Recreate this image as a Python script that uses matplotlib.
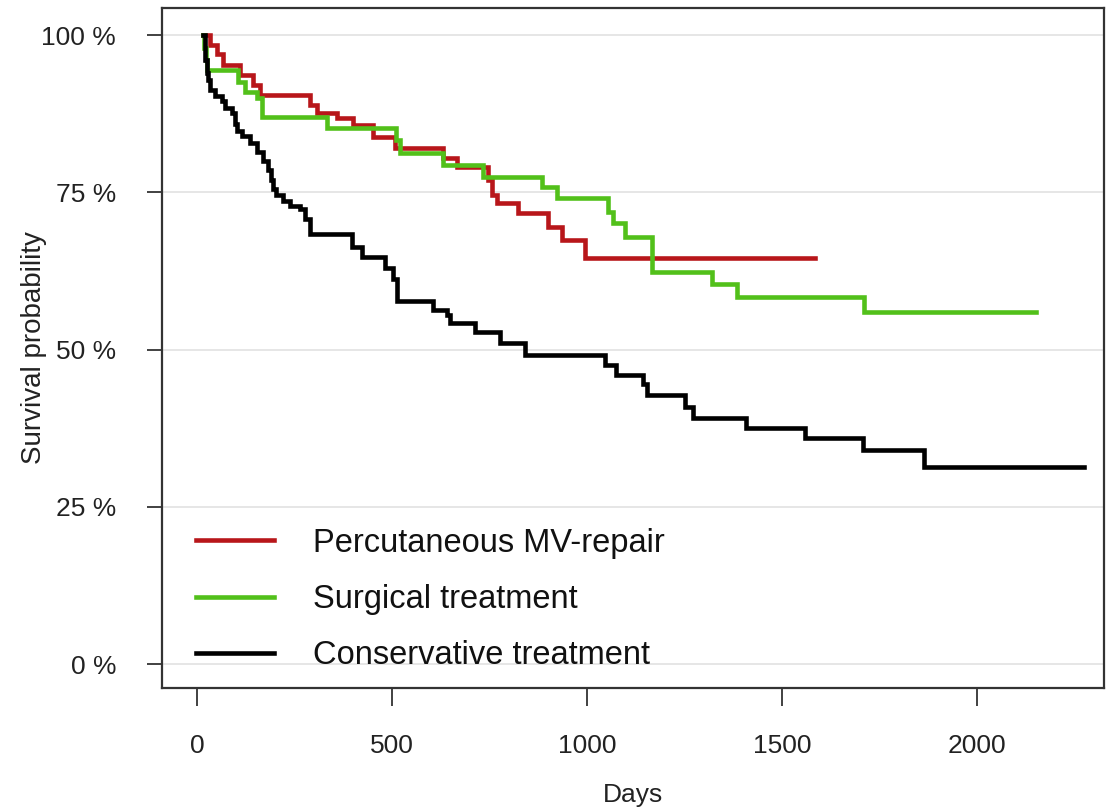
import matplotlib
matplotlib.use("Agg")
import matplotlib.pyplot as plt

# Kaplan-Meier step data (days, survival %)
days_pmv = [15, 33, 51, 67, 110, 144, 162, 290, 308, 359, 400, 451, 508, 631, 667,
            746, 756, 769, 823, 900, 936, 995, 1585]
surv_pmv = [100, 98.5, 97, 95.2, 93.6, 92, 90.5, 88.9, 87.6, 86.8, 85.7, 83.8, 82, 80.4, 79,
            77, 74.6, 73.3, 71.7, 69.5, 67.4, 64.5, 64.5]

days_sur = [15, 18, 22, 26, 105, 123, 154, 167, 333, 510, 520, 631, 733, 885, 923,
            1054, 1067, 1097, 1167, 1321, 1385, 1710, 2151]
surv_sur = [100, 98, 96, 94.4, 92.6, 91, 90, 87, 85.2, 83.3, 81.3, 79.3, 77.4, 75.8, 74.1,
            71.9, 70.1, 67.9, 62.3, 60.5, 58.3, 55.9, 55.9]

days_con = [15, 21, 26, 28, 33, 46, 64, 72, 90, 97, 103, 115, 136, 154, 169,
            182, 190, 195, 203, 221, 238, 264, 277, 290, 397, 423, 482, 503, 513, 605,
            641, 649, 713, 777, 841, 1046, 1074, 1144, 1154, 1251, 1272, 1408, 1559, 1708, 1864, 2274]
surv_con = [100, 96, 94, 92.8, 91.3, 90.3, 89.5, 88.4, 87.6, 85.8, 84.8, 84, 82.8, 81.4, 80,
            78.5, 77, 75.6, 74.6, 73.6, 72.9, 72.3, 70.8, 68.3, 66.3, 64.7, 63, 61.3, 57.7, 56.3,
            55.5, 54.3, 52.8, 51, 49.2, 47.6, 46, 44.5, 42.8, 40.8, 39.2, 37.5, 36, 34, 31.3, 31.3]

group_labels = ["Percutaneous MV-repair", "Surgical treatment", "Conservative treatment"]
group_colors = ["#b8161a", "#52c01a", "#000000"]

xticks = [0, 500, 1000, 1500, 2000]
yticks = [0, 25, 50, 75, 100]
ytick_labels = ["0 %", "25 %", "50 %", "75 %", "100 %"]

plt.rcParams["font.family"] = ["Liberation Sans", "DejaVu Sans"]

fig = plt.figure(figsize=(11.06, 8.10), dpi=100)
fig.patch.set_facecolor("white")
ax = fig.add_axes([0.1465, 0.1506, 0.8515, 0.8395])

for y in yticks:
    ax.axhline(y, color="#e2e2e2", lw=1.2, zorder=0)

series = [(days_pmv, surv_pmv), (days_sur, surv_sur), (days_con, surv_con)]
for (d, s), lab, col in zip(series, group_labels, group_colors):
    ax.step(d, s, where="post", color=col, lw=3.3, label=lab,
            solid_joinstyle="miter", zorder=3)

ax.set_xlim(-90, 2326)
ax.set_ylim(-3.8, 104.3)

ax.set_xticks(xticks)
ax.set_xticklabels([str(t) for t in xticks])
ax.set_yticks(yticks)
ax.set_yticklabels(ytick_labels)

for sp in ax.spines.values():
    sp.set_color("#333333")
    sp.set_linewidth(1.6)

ax.tick_params(axis="y", direction="out", length=11, width=1.3, color="#333333",
               pad=22, labelsize=19, labelcolor="#222222")
ax.tick_params(axis="x", direction="out", length=13, width=1.3, color="#333333",
               pad=20, labelsize=19, labelcolor="#222222")

ax.set_xlabel("Days", fontsize=19, color="#222222", labelpad=18)
ax.set_ylabel("Survival probability", fontsize=20, color="#222222")
ax.yaxis.set_label_coords(-0.122, 0.5)

leg = ax.legend(loc="upper left", bbox_to_anchor=(0.036, 0.236), frameon=False,
                fontsize=23.5, handlelength=2.4, handletextpad=1.2,
                labelspacing=0.78, borderpad=0, borderaxespad=0)
for line in leg.get_lines():
    line.set_linewidth(3.3)
for txt in leg.get_texts():
    txt.set_color("#111111")

fig.savefig("out.png", dpi=100, facecolor="white")
